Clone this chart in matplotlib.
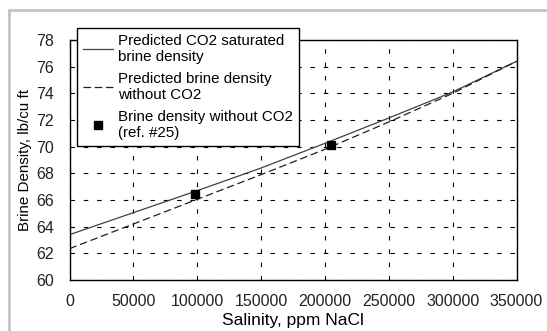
import numpy as np
import matplotlib
matplotlib.use("Agg")
import matplotlib.pyplot as plt
from matplotlib.patches import Rectangle

plt.rcParams['font.family'] = ['Liberation Sans', 'DejaVu Sans']

# salinity grid, ppm NaCl
salinity = [0, 50000, 100000, 150000, 200000, 250000, 300000, 350000]
# predicted densities, lb/cu ft
rho_co2 = [63.4, 65.05, 66.7, 68.4, 70.25, 72.15, 74.1, 76.4]
rho_brine = [62.35, 64.2, 66.05, 67.9, 69.8, 71.85, 74.0, 76.4]
# measured points (ref. #25)
meas_sal = [98500, 204500]
meas_rho = [66.45, 70.1]

fig = plt.figure(figsize=(5.47, 3.31), dpi=100)
W, H = 547, 331

# light gray frame around the figure
fig.patches.append(Rectangle((9 / W, -0.1), 1.2, (H - 10) / H + 0.1,
                             transform=fig.transFigure, fill=False,
                             edgecolor='#c4c4c4', linewidth=2))

ax = fig.add_axes([69.5 / W, (H - 280) / H, 447 / W, 240 / H])

ax.plot(salinity, rho_co2, color='#404040', lw=0.9,
        label='Predicted CO2 saturated\nbrine density')
ax.plot(salinity, rho_brine, color='#202020', lw=0.9, dashes=(6, 3),
        label='Predicted brine density\nwithout CO2')
ax.plot(meas_sal, meas_rho, 's', color='black', ms=5.5, ls='none',
        label='Brine density without CO2\n(ref. #25)')

ax.set_xlim(0, 350000)
ax.set_ylim(60, 78)
ax.set_xticks(np.arange(0, 350001, 50000))
ax.set_yticks(np.arange(60, 79, 2))
ax.tick_params(length=0, labelsize=11.5, colors='#222222')
ax.tick_params(axis='y', pad=11)
ax.tick_params(axis='x', pad=10)
ax.grid(True, color='black', lw=0.8, dashes=(4, 8))
for s in ax.spines.values():
    s.set_linewidth(1.0)

ax.set_xlabel('Salinity, ppm NaCl', fontsize=12.5, labelpad=3)
ax.set_ylabel('Brine Density, lb/cu ft', fontsize=10.9, labelpad=3)

leg = fig.legend(loc='upper left', bbox_to_anchor=(77 / W, 1 - 28 / H),
                 fontsize=10.9, frameon=True, fancybox=False,
                 edgecolor='black', framealpha=1, handlelength=1.95,
                 handletextpad=0.35, borderpad=0.4, labelspacing=0.5,
                 borderaxespad=0)
leg.get_frame().set_linewidth(1.0)

fig.savefig('out.png', dpi=100)
